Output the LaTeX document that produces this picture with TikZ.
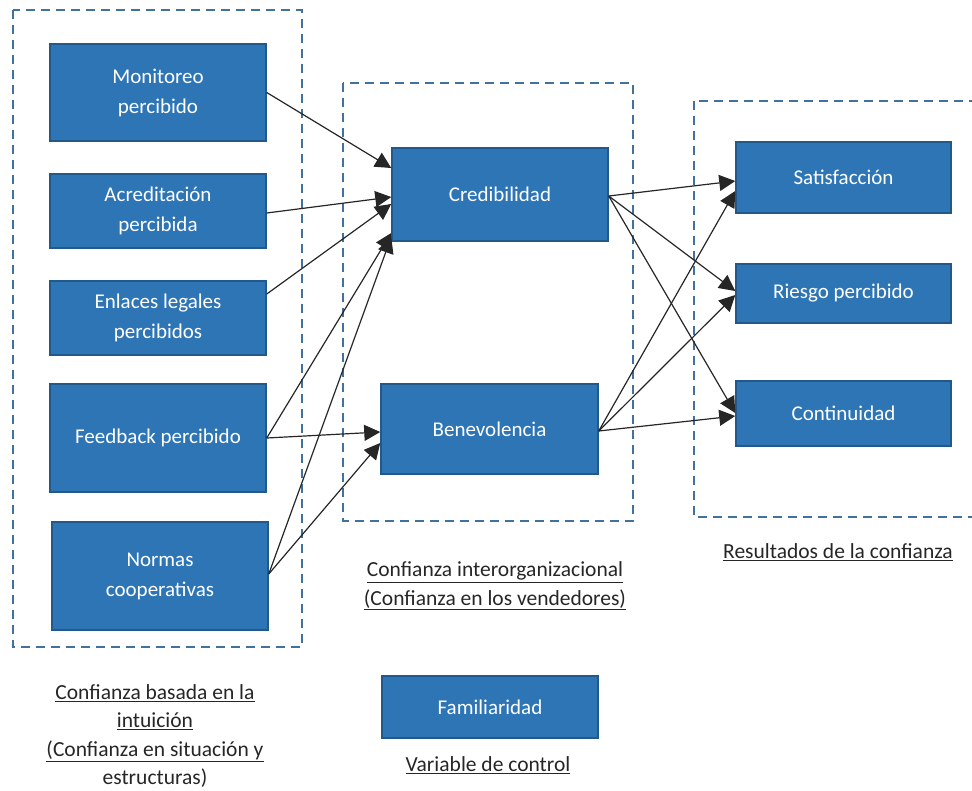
\documentclass[tikz,border=0pt]{standalone}
\usepackage{fontspec}
\setmainfont{Carlito}
\usetikzlibrary{arrows.meta}

\definecolor{boxfill}{HTML}{2E75B6}
\definecolor{boxline}{HTML}{23598A}
\definecolor{groupline}{HTML}{41719C}
\definecolor{labeltext}{HTML}{262626}

\tikzset{
  construct/.style={draw=boxline, line width=1.5pt, fill=boxfill, text=white,
    align=center, inner sep=0pt, font=\fontsize{21}{30}\selectfont},
  group/.style={draw=groupline, line width=2.4pt, dash pattern=on 9pt off 6pt},
  caption/.style={align=center, text=labeltext, inner sep=0pt,
    font=\fontsize{21.5}{28.5}\selectfont},
  link/.style={draw=black!85, line width=1.2pt,
    -{Triangle[length=16pt,width=16pt]}}
}

\begin{document}
\begin{tikzpicture}[x=1pt, y=-1pt]
\clip (0,0) rectangle (972,790);

% groups
\draw[group] (13,10) rectangle (302,647);
\draw[group] (343,83) rectangle (633,521);
\draw[group] (694,101) rectangle (990,517);

% antecedents
\node[construct, minimum width=216pt, minimum height=97pt]  (mon) at (158,92.5) {Monitoreo\\percibido};
\node[construct, minimum width=216pt, minimum height=74pt]  (acr) at (158,211) {Acreditación\\percibida};
\node[construct, minimum width=216pt, minimum height=74pt]  (enl) at (158,318) {Enlaces legales\\percibidos};
\node[construct, minimum width=216pt, minimum height=108pt] (fee) at (158,438) {Feedback percibido};
\node[construct, minimum width=216pt, minimum height=108pt] (nor) at (160,576) {Normas\\cooperativas};

% trust dimensions
\node[construct, minimum width=216pt, minimum height=93pt] (cre) at (500,194.5) {Credibilidad};
\node[construct, minimum width=217pt, minimum height=90pt] (ben) at (489.5,429) {Benevolencia};

% outcomes
\node[construct, minimum width=215pt, minimum height=71pt] (sat) at (843.5,177.5) {Satisfacción};
\node[construct, minimum width=215pt, minimum height=59pt] (rie) at (843.5,293.5) {Riesgo percibido};
\node[construct, minimum width=215pt, minimum height=65pt] (con) at (843.5,413.5) {Continuidad};

% control variable
\node[construct, minimum width=216pt, minimum height=62pt] (fam) at (490,707) {Familiaridad};

% captions
\node[caption] (capA) at (155,736) {\underline{Confianza basada en la}\\\underline{intuición}\\\underline{(Confianza en situación y}\\estructuras)};
\node[caption] (capB) at (495,586) {\underline{Confianza interorganizacional}\\\underline{(Confianza en los vendedores)}};
\node[caption] (capC) at (838,552.5) {\underline{Resultados de la confianza}};
\node[caption] (capD) at (488,765.5) {\underline{Variable de control}};

% antecedents -> credibility / benevolence
\draw[link] (mon.east) -- ([yshift=26.5pt]cre.west);
\draw[link] ([yshift=-2pt]acr.east) -- ([yshift=-2.5pt]cre.west);
\draw[link] ([yshift=24pt]enl.east) -- ([yshift=-9.5pt]cre.west);
\draw[link] (fee.east) -- ([yshift=-38.5pt]cre.west);
\draw[link] ([yshift=2pt]nor.east) -- ([yshift=-42.5pt]cre.west);
\draw[link] (fee.east) -- ([yshift=-3pt]ben.west);
\draw[link] ([yshift=2pt]nor.east) -- ([yshift=-14pt]ben.west);

% credibility / benevolence -> outcomes
\draw[link] ([yshift=-1.5pt]cre.east) -- ([yshift=-3.5pt]sat.west);
\draw[link] ([yshift=-1.5pt]cre.east) -- ([yshift=2.5pt]rie.west);
\draw[link] ([yshift=-1.5pt]cre.east) -- ([yshift=0.5pt]con.west);
\draw[link] ([yshift=-2pt]ben.east) -- ([yshift=-13.5pt]sat.west);
\draw[link] ([yshift=-2pt]ben.east) -- ([yshift=-1.5pt]rie.west);
\draw[link] ([yshift=-2pt]ben.east) -- ([yshift=-2.5pt]con.west);
\end{tikzpicture}
\end{document}
